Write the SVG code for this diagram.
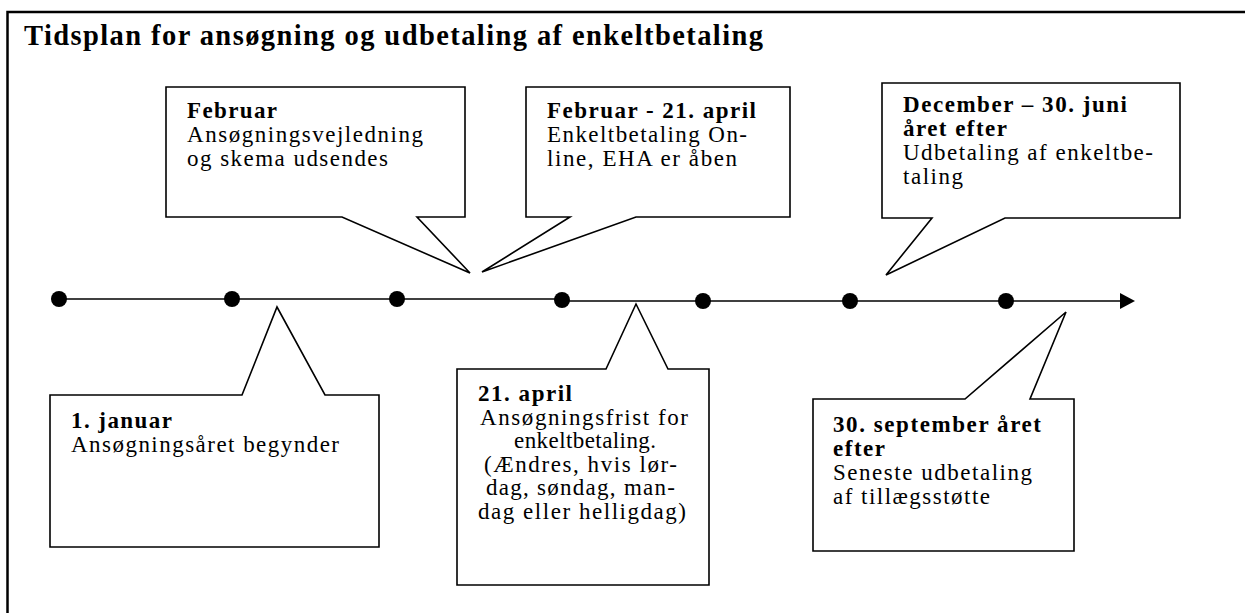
<svg xmlns="http://www.w3.org/2000/svg" width="1245" height="613" viewBox="0 0 1245 613">
<style>
.callout{fill:#fff;stroke:#000;stroke-width:1.6;stroke-linejoin:miter}
.tl{stroke:#000;stroke-width:1.6;fill:none}
.frame{stroke:#000;stroke-width:2.5;fill:none}
</style>
<rect width="1245" height="613" fill="#fff"/>
<g font-family="'Liberation Serif', 'Times New Roman', serif" font-size="23" fill="#000">
<g id="frame">
<path class="frame" d="M7.5,613 V12 H1245"/>
<text font-weight="bold" font-size="28.5" x="24" y="45" textLength="739" lengthAdjust="spacing">Tidsplan for ansøgning og udbetaling af enkeltbetaling</text>
</g>
<g id="connectors">
<path class="tl" d="M59,299 H562"/>
<path class="tl" d="M562,301 H1122"/>
<polygon points="1135,301 1120,293 1120,309" fill="#000"/>
<g fill="#000">
<circle cx="59" cy="299" r="8"/>
<circle cx="232" cy="299" r="8"/>
<circle cx="397" cy="299" r="8"/>
<circle cx="562" cy="300" r="8"/>
<circle cx="703" cy="301" r="8"/>
<circle cx="850" cy="301" r="8"/>
<circle cx="1006" cy="301" r="8"/>
</g>
</g>
<g id="februar">
<path class="callout" d="M166,87 H465 V217 H417 L470,273 L342,217 H166 Z"/>
<text font-weight="bold" x="187" y="118" textLength="90" lengthAdjust="spacing">Februar</text>
<text x="187" y="142" textLength="236" lengthAdjust="spacing">Ansøgningsvejledning</text>
<text x="187" y="166" textLength="201" lengthAdjust="spacing">og skema udsendes</text>
</g>
<g id="februar-april">
<path class="callout" d="M526,87 H790 V217 H636 L482,272 L570,217 H526 Z"/>
<text font-weight="bold" x="547" y="118" textLength="209" lengthAdjust="spacing">Februar - 21. april</text>
<text x="547" y="142" textLength="200" lengthAdjust="spacing">Enkeltbetaling On-</text>
<text x="547" y="166" textLength="190" lengthAdjust="spacing">line, EHA er åben</text>
</g>
<g id="december-juni">
<path class="callout" d="M882,83 H1180 V218 H1005 L886,275 L932,218 H882 Z"/>
<text font-weight="bold" x="903" y="112" textLength="224" lengthAdjust="spacing">December – 30. juni</text>
<text font-weight="bold" x="903" y="136" textLength="104" lengthAdjust="spacing">året efter</text>
<text x="903" y="160" textLength="250" lengthAdjust="spacing">Udbetaling af enkeltbe-</text>
<text x="903" y="184" textLength="60" lengthAdjust="spacing">taling</text>
</g>
<g id="januar">
<path class="callout" d="M50,395 H242 L277,307 L325,395 H379 V547 H50 Z"/>
<text font-weight="bold" x="71" y="428" textLength="101" lengthAdjust="spacing">1. januar</text>
<text x="71" y="452" textLength="268" lengthAdjust="spacing">Ansøgningsåret begynder</text>
</g>
<g id="april">
<path class="callout" d="M457,369 H606 L636,304 L668,369 H709 V585 H457 Z"/>
<text font-weight="bold" x="478" y="401" textLength="94" lengthAdjust="spacing">21. april</text>
<text x="480" y="424.6" textLength="208" lengthAdjust="spacing">Ansøgningsfrist for</text>
<text x="514" y="448.2" textLength="142" lengthAdjust="spacing">enkeltbetaling.</text>
<text x="484" y="471.8" textLength="193" lengthAdjust="spacing">(Ændres, hvis lør-</text>
<text x="486" y="495.4" textLength="189" lengthAdjust="spacing">dag, søndag, man-</text>
<text x="478" y="519" textLength="208" lengthAdjust="spacing">dag eller helligdag)</text>
</g>
<g id="september">
<path class="callout" d="M813,399 H965 L1066,312 L1030,399 H1074 V551 H813 Z"/>
<text font-weight="bold" x="833" y="432" textLength="208" lengthAdjust="spacing">30. september året</text>
<text font-weight="bold" x="833" y="456" textLength="52" lengthAdjust="spacing">efter</text>
<text x="833" y="480" textLength="199" lengthAdjust="spacing">Seneste udbetaling</text>
<text x="833" y="504" textLength="157" lengthAdjust="spacing">af tillægsstøtte</text>
</g>
</g>
</svg>
